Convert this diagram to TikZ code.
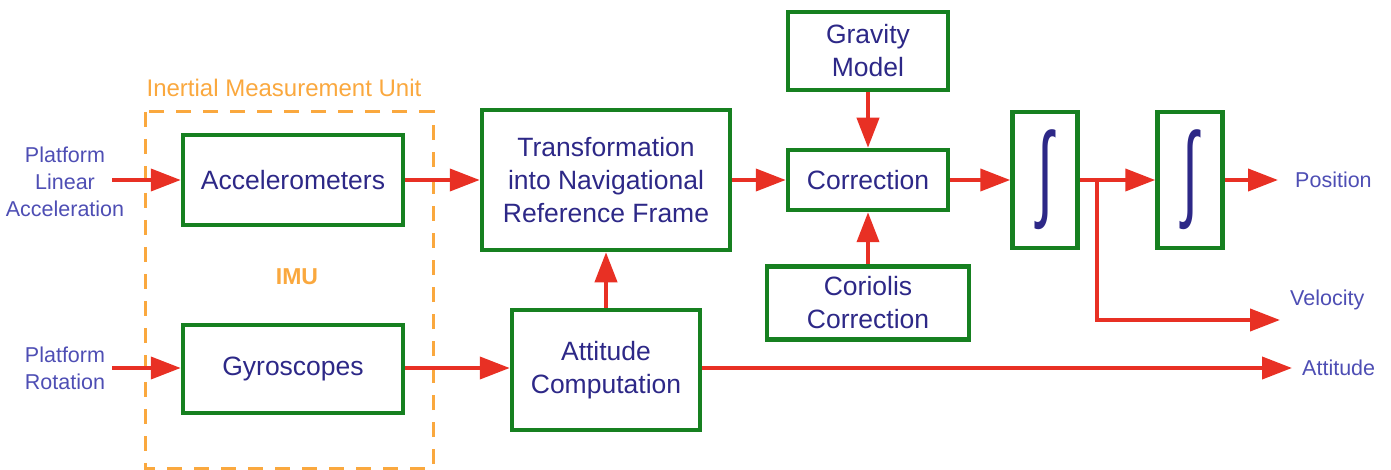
\documentclass[tikz,border=0pt]{standalone}
\usepackage{fontspec}
\setmainfont{Liberation Sans}
\newfontfamily\intfont{Liberation Mono}
\usepackage{graphicx}
\usetikzlibrary{arrows.meta,positioning}

\definecolor{boxgreen}{RGB}{22,128,32}
\definecolor{sigred}{RGB}{232,48,36}
\definecolor{navy}{RGB}{45,40,135}
\definecolor{lblue}{RGB}{78,78,180}
\definecolor{imuorange}{RGB}{250,168,62}

\newcommand{\integ}{\resizebox*{34pt}{100pt}{\intfont ∫}}

\tikzset{
  blk/.style={draw=boxgreen,line width=4.5pt,text=navy,align=center,
    inner sep=0pt,font=\fontsize{26.5}{33}\selectfont},
  sig/.style={draw=sigred,line width=4pt,-{Triangle[length=30pt,width=22pt]}},
  lbl/.style={text=lblue,align=center,inner sep=0pt,font=\fontsize{21.5}{27}\selectfont},
  imu/.style={text=imuorange,inner sep=0pt},
}

\begin{document}
\begin{tikzpicture}[x=1pt,y=-1pt]
 \useasboundingbox (0,0) rectangle (1391,470);
 % inertial measurement unit
 \draw[imuorange,line width=3pt,dash pattern=on 15pt off 12pt] (145,112) rectangle (433,468);
 \node[imu,font=\fontsize{24}{28}\selectfont] (imutitle) at (284,88) {Inertial Measurement Unit};
 \node[imu,font=\fontsize{23}{28}\selectfont\bfseries] (imulabel) at (297,277) {IMU};

 % blocks
 \node[blk,minimum width=220pt,minimum height=90pt] (acc) at (293,180) {Accelerometers};
 \node[blk,minimum width=220pt,minimum height=88pt] (gyro) at (293,369) {Gyroscopes};
 \node[blk,minimum width=248pt,minimum height=140pt] (trans) at (606,180)
   {Transformation\\into Navigational\\Reference Frame};
 \node[blk,minimum width=188pt,minimum height=120pt] (att) at (606,370) {Attitude\\Computation};
 \node[blk,minimum width=160pt,minimum height=78pt] (grav) at (868,51) {Gravity\\Model};
 \node[blk,minimum width=160pt,minimum height=60pt] (corr) at (868,180) {Correction};
 \node[blk,minimum width=202pt,minimum height=73pt] (cor) at (868,303) {Coriolis\\Correction};
 \node[blk,minimum width=65pt,minimum height=136pt] (int1) at (1045,180) {\integ};
 \node[blk,minimum width=65pt,minimum height=136pt] (int2) at (1190,180) {\integ};

 % inputs and outputs
 \node[lbl] (linacc) at (65,182) {Platform\\Linear\\Acceleration};
 \node[lbl] (rot) at (65,368) {Platform\\Rotation};
 \node[lbl,anchor=west] (pos) at (1295,180) {Position};
 \node[lbl,anchor=west] (vel) at (1290,300) {Velocity};
 \node[lbl,anchor=west] (attout) at (1302,368) {Attitude};
 \coordinate (accin) at (112,180);
 \coordinate (gyroin) at (112,368);
 \coordinate (posend) at (1278,180);
 \coordinate (velsplit) at (1097,180);
 \coordinate (velend) at (1280,320);
 \coordinate (attend) at (1292,368);

 % signals
 \draw[sig] (accin) -- (acc);
 \draw[sig] (gyroin) -- (gyroin -| gyro.west);
 \draw[sig] (acc) -- (trans);
 \draw[sig] (gyro.east |- gyroin) -- (gyroin -| att.west);
 \draw[sig] (att) -- (trans);
 \draw[sig] (trans) -- (corr);
 \draw[sig] (grav) -- (corr);
 \draw[sig] (cor) -- (corr);
 \draw[sig] (corr) -- (int1);
 \draw[sig] (int1) -- (int2);
 \draw[sig] (int2) -- (posend);
 \draw[sig] (velsplit) |- (velend);
 \draw[sig] (att.east |- gyroin) -- (attend);
\end{tikzpicture}
\end{document}
